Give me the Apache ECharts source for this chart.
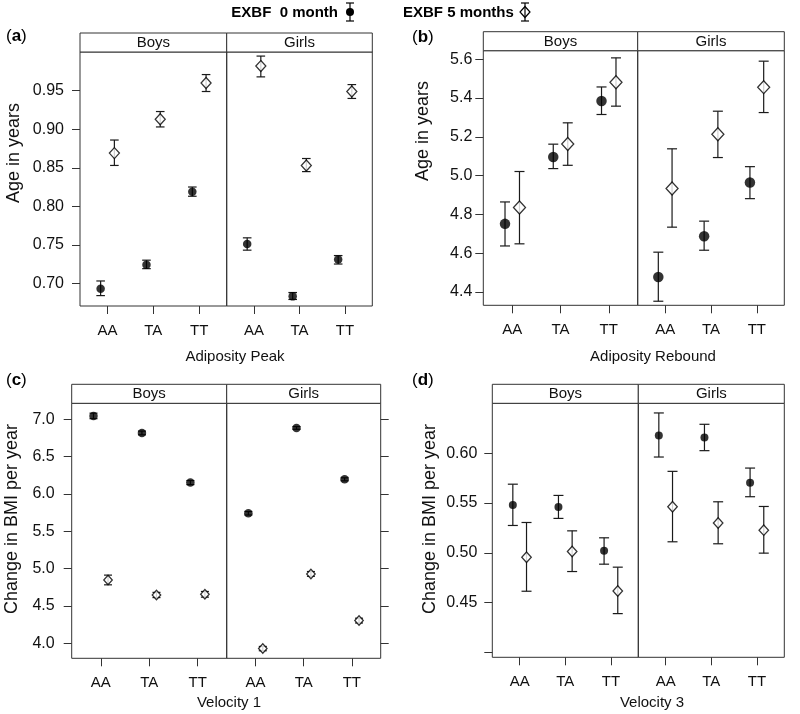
<!DOCTYPE html>
<html>
<head>
<meta charset="utf-8">
<script src="https://cdn.jsdelivr.net/npm/echarts@6/dist/echarts.min.js"></script>
<style>html,body{margin:0;padding:0;background:#fff}#chart{width:800px;height:714px}</style>
</head>
<body>
<div id="chart"></div>
<script>
// ---- Data (order: Boys AA, TA, TT, Girls AA, TA, TT); each point = [mean, lower, upper]
const categories = ['AA', 'TA', 'TT'];
const groups = ['Boys', 'Girls'];
const seriesNames = ['EXBF  0 month', 'EXBF 5 months'];

const peak0 = [[0.693,0.684,0.703],[0.724,0.719,0.730],[0.819,0.813,0.825],[0.751,0.743,0.759],[0.683,0.679,0.688],[0.731,0.725,0.736]];
const peak5 = [[0.869,0.853,0.886],[0.913,0.903,0.923],[0.960,0.949,0.971],[0.982,0.968,0.995],[0.853,0.845,0.862],[0.949,0.940,0.958]];
const peakTicks = [0.70,0.75,0.80,0.85,0.90,0.95];

const rebound0 = [[4.751,4.637,4.864],[5.096,5.036,5.162],[5.385,5.315,5.457],[4.477,4.352,4.605],[4.687,4.615,4.765],[4.964,4.881,5.046]];
const rebound5 = [[4.835,4.648,5.021],[5.163,5.053,5.272],[5.481,5.358,5.607],[4.933,4.734,5.138],[5.213,5.093,5.332],[5.456,5.325,5.590]];
const reboundTicks = [4.4,4.6,4.8,5.0,5.2,5.4,5.6];

const vel1_0 = [[7.045,7.008,7.082],[6.817,6.792,6.842],[6.152,6.125,6.179],[5.741,5.718,5.764],[6.884,6.866,6.902],[6.196,6.176,6.216]];
const vel1_5 = [[4.848,4.783,4.913],[4.647,4.612,4.682],[4.656,4.618,4.694],[3.929,3.900,3.958],[4.929,4.897,4.961],[4.304,4.272,4.336]];
const vel1Ticks = [4.0,4.5,5.0,5.5,6.0,6.5,7.0];

const vel3_0 = [[0.548,0.5275,0.569],[0.546,0.5346,0.5577],[0.502,0.4886,0.5151],[0.618,0.5963,0.6406],[0.6158,0.6027,0.6292],[0.5705,0.5564,0.5852]];
const vel3_5 = [[0.4956,0.4614,0.5305],[0.5013,0.4812,0.5221],[0.4617,0.4389,0.4856],[0.5463,0.5111,0.5819],[0.5299,0.5091,0.5513],[0.5228,0.4997,0.5466]];
const vel3Ticks = [0.40,0.45,0.50,0.55,0.60];
const vel3Labelled = [0.45,0.50,0.55,0.60];

// ---- Layout (geometry only)
const FONT = "'Liberation Sans', Arial, sans-serif";
const panels = [
  {tag:'a', s0:peak0, s5:peak5, ticks:peakTicks, labelled:peakTicks, dec:2, ymin:0.6705, ymax:1.0003,
   xName:'Adiposity Peak', yName:'Age in years', cols:[[80,226.7],[226.7,372.3]], top:52, bottom:306, stripTop:33,
   labelMargin:16, cap:4.3, circ:8.5, dia:[10,11], rightTicks:false,
   tagPos:[6,36], yNamePos:[14,153], xNamePos:[235,357]},
  {tag:'b', s0:rebound0, s5:rebound5, ticks:reboundTicks, labelled:reboundTicks, dec:1, ymin:4.331, ymax:5.644,
   xName:'Adiposity Rebound', yName:'Age in years', cols:[[483.3,637.7],[637.7,784.3]], top:50.7, bottom:305.3, stripTop:31.7,
   labelMargin:11, cap:5, circ:10.5, dia:[12,13], rightTicks:false,
   tagPos:[412,37], yNamePos:[423,131], xNamePos:[653,357]},
  {tag:'c', s0:vel1_0, s5:vel1_5, ticks:vel1Ticks, labelled:vel1Ticks, dec:1, ymin:3.799, ymax:7.214,
   xName:'Velocity 1', yName:'Change in BMI per year', cols:[[71.7,226.7],[226.7,380.7]], top:403.3, bottom:658.3, stripTop:384.3,
   labelMargin:17, cap:4, circ:8.5, dia:[8.5,9.5], rightTicks:true,
   tagPos:[6,380], yNamePos:[12,519], xNamePos:[229,703]},
  {tag:'d', s0:vel3_0, s5:vel3_5, ticks:vel3Ticks, labelled:vel3Labelled, dec:2, ymin:0.395, ymax:0.6503,
   xName:'Velocity 3', yName:'Change in BMI per year', cols:[[492.3,638.3],[638.3,784.3]], top:403.3, bottom:657.3, stripTop:384.3,
   labelMargin:15, cap:5, circ:8, dia:[9.5,10.5], rightTicks:false,
   tagPos:[412,380], yNamePos:[430,519], xNamePos:[652,703]}
];

const OFFSET = 0.15;
const grid = [], xAxis = [], yAxis = [], series = [], graphic = [];

function errRender(capHalf) {
  return function (params, api) {
    const x = api.value(0), lo = api.value(1), hi = api.value(2);
    const p1 = api.coord([x, lo]), p2 = api.coord([x, hi]);
    const st = {stroke: '#1a1a1a', lineWidth: 1.2};
    return {type: 'group', children: [
      {type: 'line', shape: {x1: p1[0], y1: p1[1], x2: p2[0], y2: p2[1]}, style: st},
      {type: 'line', shape: {x1: p1[0] - capHalf, y1: p1[1], x2: p1[0] + capHalf, y2: p1[1]}, style: st},
      {type: 'line', shape: {x1: p2[0] - capHalf, y1: p2[1], x2: p2[0] + capHalf, y2: p2[1]}, style: st}
    ]};
  };
}

panels.forEach(function (p) {
  groups.forEach(function (g, gi) {
    const idx = grid.length;
    const L = p.cols[gi][0], R = p.cols[gi][1];
    grid.push({left: L, top: p.top, width: R - L, height: p.bottom - p.top,
      show: true, borderColor: '#333', borderWidth: 1, backgroundColor: 'transparent'});
    xAxis.push({type: 'value', gridIndex: idx, min: 0.4, max: 3.6,
      axisLine: {show: false}, splitLine: {show: false},
      axisTick: {show: true, inside: false, length: 8, customValues: [1, 2, 3], lineStyle: {color: '#333'}},
      axisLabel: {show: true, customValues: [1, 2, 3], margin: 17, fontFamily: FONT, fontSize: 15, color: '#111',
        formatter: function (v) { return categories[Math.round(v) - 1]; }}});
    const left = gi === 0;
    yAxis.push({type: 'value', gridIndex: idx, min: p.ymin, max: p.ymax,
      position: left ? 'left' : 'right',
      axisLine: {show: false}, splitLine: {show: false},
      axisTick: {show: left || p.rightTicks, inside: false, length: 8, customValues: p.ticks, lineStyle: {color: '#333'}},
      axisLabel: {show: left, customValues: p.labelled, margin: p.labelMargin, fontFamily: FONT, fontSize: 16, color: '#111',
        formatter: function (v) { return v.toFixed(p.dec); }}});
    [p.s0, p.s5].forEach(function (arr, si) {
      const off = si === 0 ? -OFFSET : OFFSET;
      const pts = arr.slice(gi * 3, gi * 3 + 3);
      series.push({type: 'custom', name: seriesNames[si] + ' err', xAxisIndex: idx, yAxisIndex: idx, z: 2,
        renderItem: errRender(p.cap), silent: true,
        data: pts.map(function (d, i) { return [i + 1 + off, d[1], d[2]]; })});
      series.push({type: 'scatter', name: seriesNames[si], xAxisIndex: idx, yAxisIndex: idx, z: 3,
        symbol: si === 0 ? 'circle' : 'diamond',
        symbolSize: si === 0 ? p.circ : p.dia,
        itemStyle: si === 0 ? {color: '#000'} : {color: '#fff', borderColor: '#000', borderWidth: 1.3},
        data: pts.map(function (d, i) { return [i + 1 + off, d[0]]; })});
    });
    // strip
    graphic.push({type: 'rect', shape: {x: L, y: p.stripTop, width: R - L, height: p.top - p.stripTop},
      style: {fill: '#fff', stroke: '#333', lineWidth: 1}, z: 10});
    graphic.push({type: 'text', x: (L + R) / 2, y: (p.stripTop + p.top) / 2 + 0.5, z: 11,
      style: {text: g, font: '15px ' + FONT, fill: '#111', align: 'center', verticalAlign: 'middle'}});
  });
  graphic.push({type: 'text', x: p.tagPos[0], y: p.tagPos[1], z: 11,
    style: {text: '{n|(}{b|' + p.tag + '}{n|)}', verticalAlign: 'middle', align: 'left',
      rich: {n: {font: '17px ' + FONT, fill: '#000'}, b: {font: 'bold 17px ' + FONT, fill: '#000'}}}});
  graphic.push({type: 'text', x: p.yNamePos[0], y: p.yNamePos[1], rotation: Math.PI / 2, z: 11,
    style: {text: p.yName, font: '18px ' + FONT, fill: '#111', align: 'center', verticalAlign: 'middle'}});
  graphic.push({type: 'text', x: p.xNamePos[0], y: p.xNamePos[1], z: 11,
    style: {text: p.xName, font: '15px ' + FONT, fill: '#111', align: 'center', verticalAlign: 'middle'}});
});

// ---- Legend (key at top)
const lg = {stroke: '#000', lineWidth: 1.2};
graphic.push({type: 'text', x: 338, y: 13, z: 11,
  style: {text: seriesNames[0], font: 'bold 15px ' + FONT, fill: '#000', align: 'right', verticalAlign: 'middle'}});
graphic.push({type: 'group', x: 350, y: 12, z: 11, children: [
  {type: 'line', shape: {x1: 0, y1: -9, x2: 0, y2: 9}, style: lg},
  {type: 'line', shape: {x1: -4, y1: -9, x2: 4, y2: -9}, style: lg},
  {type: 'line', shape: {x1: -4, y1: 9, x2: 4, y2: 9}, style: lg},
  {type: 'circle', shape: {cx: 0, cy: 0, r: 4}, style: {fill: '#000'}}
]});
graphic.push({type: 'text', x: 403, y: 13, z: 11,
  style: {text: seriesNames[1], font: 'bold 15px ' + FONT, fill: '#000', align: 'left', verticalAlign: 'middle'}});
graphic.push({type: 'group', x: 525, y: 12, z: 11, children: [
  {type: 'line', shape: {x1: 0, y1: -9, x2: 0, y2: 9}, style: lg},
  {type: 'line', shape: {x1: -4, y1: -9, x2: 4, y2: -9}, style: lg},
  {type: 'line', shape: {x1: -4, y1: 9, x2: 4, y2: 9}, style: lg},
  {type: 'polygon', shape: {points: [[0, -5.5], [5, 0], [0, 5.5], [-5, 0]]}, style: {fill: 'none', stroke: '#000', lineWidth: 1.2}}
]});

const chart = echarts.init(document.getElementById('chart'), null, {renderer: 'canvas'});
chart.setOption({
  animation: false,
  backgroundColor: '#fff',
  grid: grid, xAxis: xAxis, yAxis: yAxis, series: series, graphic: graphic
});
</script>
</body>
</html>
